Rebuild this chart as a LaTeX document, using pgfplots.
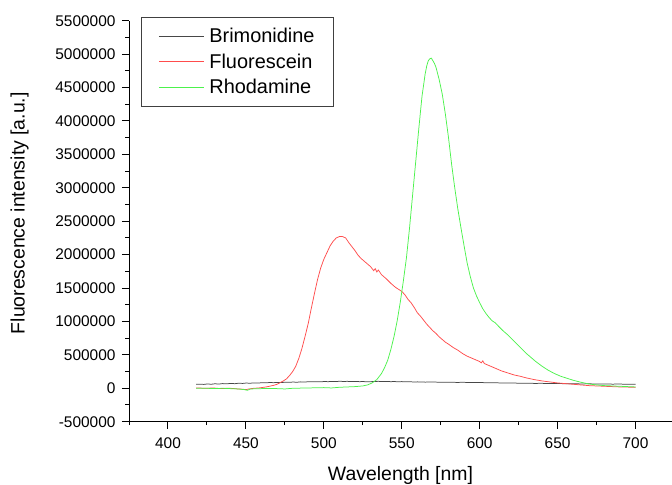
\documentclass[border=0pt]{standalone}
\usepackage{fontspec}
\setmainfont{Liberation Sans}
\usepackage{pgfplots}
\pgfplotsset{compat=1.18}
\definecolor{fred}{rgb}{1,0.3,0.3}
\definecolor{rgreen}{rgb}{0.3,0.95,0.3}
\definecolor{bgray}{rgb}{0.28,0.28,0.28}
\begin{document}
\begin{tikzpicture}
\useasboundingbox (-129bp,-63.3bp) rectangle (543bp,421.7bp);
\begin{axis}[
  at={(0,0)}, anchor=south west,
  scale only axis, width=543bp, height=401bp,
  xmin=375, xmax=723.4, ymin=-500000, ymax=5500000,
  axis x line=bottom, axis y line=left,
  axis line style={line width=1pt,-},
  every tick/.style={line width=1pt,black},
  tick align=outside,
  major tick length=7bp, minor tick length=3.5bp,
  xtick={400,450,...,700},
  minor xtick={375,425,...,725},
  ytick={-500000,0,...,5500000},
  minor ytick={-250000,250000,...,5250000},
  scaled y ticks=false,
  yticklabel style={/pgf/number format/fixed,/pgf/number format/precision=0,/pgf/number format/set thousands separator={}},
  /pgf/number format/assume math mode=true,
  ticklabel style={font=\fontsize{15.5}{18}\selectfont},
  xticklabel style={yshift=-5bp},
  yticklabel style={xshift=-3bp},
  xlabel={Wavelength [nm]},
  ylabel={Fluorescence intensity [a.u.]},
  label style={font=\fontsize{19.5}{22}\selectfont},
  xlabel style={at={(axis description cs:0.5,0)},anchor=center,yshift=-54bp},
  ylabel style={at={(axis description cs:0,0.52)},anchor=center,rotate=0,yshift=109.5bp},
  legend style={at={(axis description cs:0.0221,1.0092)},anchor=north west,
    draw=black!75, line width=1pt, font=\fontsize{20}{23}\selectfont,
    inner xsep=17bp, inner ysep=9bp, row sep=5.5bp,
    nodes={inner sep=2bp}},
  legend cell align=left,
  legend image code/.code={\draw[#1,line width=1pt] (0bp,0bp) -- (45bp,0bp); \path (48bp,0bp);},
  clip=false,
]
\addplot[bgray, line width=0.75pt] coordinates {
(418,60000) (420,62000) (423,58000) (425,64000) (428,61000) (430,67000) (433,64000) (435,70000) (438,68000) (440,72000)
(443,69000) (445,75000) (448,73000) (450,78000) (453,76000) (455,80000) (458,78000) (460,83000) (463,81000) (465,86000)
(468,84000) (470,88000) (473,86000) (475,91000) (478,89000) (480,93000) (483,91000) (485,96000) (488,94000) (490,98000)
(493,96000) (495,99000) (498,97000) (500,101000) (503,99000) (505,103000) (508,101000) (510,105000) (513,102000) (515,104000)
(518,100000) (520,103000) (523,99000) (525,101000) (528,97000) (530,99000) (533,102000) (535,104000) (538,100000) (540,103000)
(543,99000) (545,101000) (548,97000) (550,100000) (553,96000) (555,98000) (558,94000) (560,96000) (565,92000) (570,94000)
(575,90000) (580,92000) (585,88000) (590,89000) (595,85000) (600,87000) (605,82000) (610,83000) (615,78000) (620,80000)
(625,76000) (630,77000) (635,73000) (640,74000) (645,70000) (650,72000) (655,68000) (660,69000) (665,65000) (670,67000)
(675,64000) (680,65000) (685,62000) (690,63000) (695,60000) (700,61000)
};
\addlegendentry{Brimonidine\hspace{12bp}}
\addplot[fred, line width=0.75pt] coordinates {
(418,5000) (422,2000) (425,0) (428,4000) (430,3000) (433,-3000) (435,-5000) (438,1000) (440,0) (443,-6000)
(445,-10000) (448,-14000) (450,-20000) (452,-10000) (455,0) (458,4000) (460,10000) (463,20000) (465,30000) (468,45000)
(470,60000) (472,85000) (474,110000) (476,140000) (478,190000) (480,250000) (482,330000) (484,450000) (486,600000) (488,780000)
(490,970000) (492,1200000) (494,1420000) (496,1630000) (498,1800000) (500,1930000) (502,2030000) (504,2130000) (506,2200000) (508,2250000)
(510,2270000) (512,2270000) (514,2250000) (516,2180000) (518,2120000) (520,2060000) (522,1990000) (524,1940000) (526,1900000) (528,1860000)
(530,1820000) (532,1760000) (533,1790000) (534,1740000) (535,1770000) (537,1700000) (540,1640000) (543,1570000) (546,1510000) (548,1480000)
(550,1450000) (552,1400000) (554,1330000) (556,1280000) (558,1210000) (560,1130000) (562,1080000) (564,1020000) (566,960000) (568,910000)
(570,860000) (572,820000) (574,770000) (576,730000) (578,690000) (580,660000) (583,610000) (586,570000) (589,520000) (592,480000)
(595,450000) (598,420000) (600,400000) (601,380000) (602,410000) (603,370000) (606,340000) (610,300000) (614,260000) (618,230000)
(622,200000) (626,180000) (630,155000) (635,130000) (640,110000) (645,95000) (650,80000) (655,70000) (660,60000) (665,50000)
(670,40000) (675,35000) (680,30000) (690,20000) (700,15000)
};
\addlegendentry{Fluorescein}
\addplot[rgreen, line width=0.75pt] coordinates {
(418,0) (425,0) (430,-5000) (435,0) (440,-5000) (445,-10000) (449,-20000) (451,-30000) (453,-10000) (460,-5000)
(470,-5000) (475,-10000) (480,0) (490,5000) (500,10000) (505,5000) (510,15000) (515,20000) (520,25000) (525,35000)
(528,50000) (531,80000) (534,130000) (537,220000) (539,310000) (541,420000) (543,580000) (545,770000) (547,1000000) (549,1280000)
(551,1600000) (553,1950000) (555,2400000) (557,2900000) (559,3400000) (561,3900000) (563,4370000) (565,4700000) (566,4820000) (567,4900000)
(568,4930000) (569,4940000) (570,4900000) (571,4860000) (572,4800000) (574,4620000) (576,4400000) (578,4100000) (580,3750000) (582,3350000)
(584,3000000) (586,2680000) (588,2400000) (590,2130000) (592,1870000) (594,1670000) (596,1500000) (598,1380000) (600,1280000) (602,1190000)
(604,1120000) (606,1060000) (608,1010000) (610,980000) (612,930000) (615,860000) (618,800000) (621,730000) (624,660000) (627,590000)
(630,520000) (633,460000) (636,400000) (640,330000) (644,270000) (648,220000) (652,180000) (656,150000) (660,120000) (665,90000)
(670,65000) (675,50000) (680,40000) (690,30000) (700,20000)
};
\addlegendentry{Rhodamine}
\end{axis}
\end{tikzpicture}
\end{document}
